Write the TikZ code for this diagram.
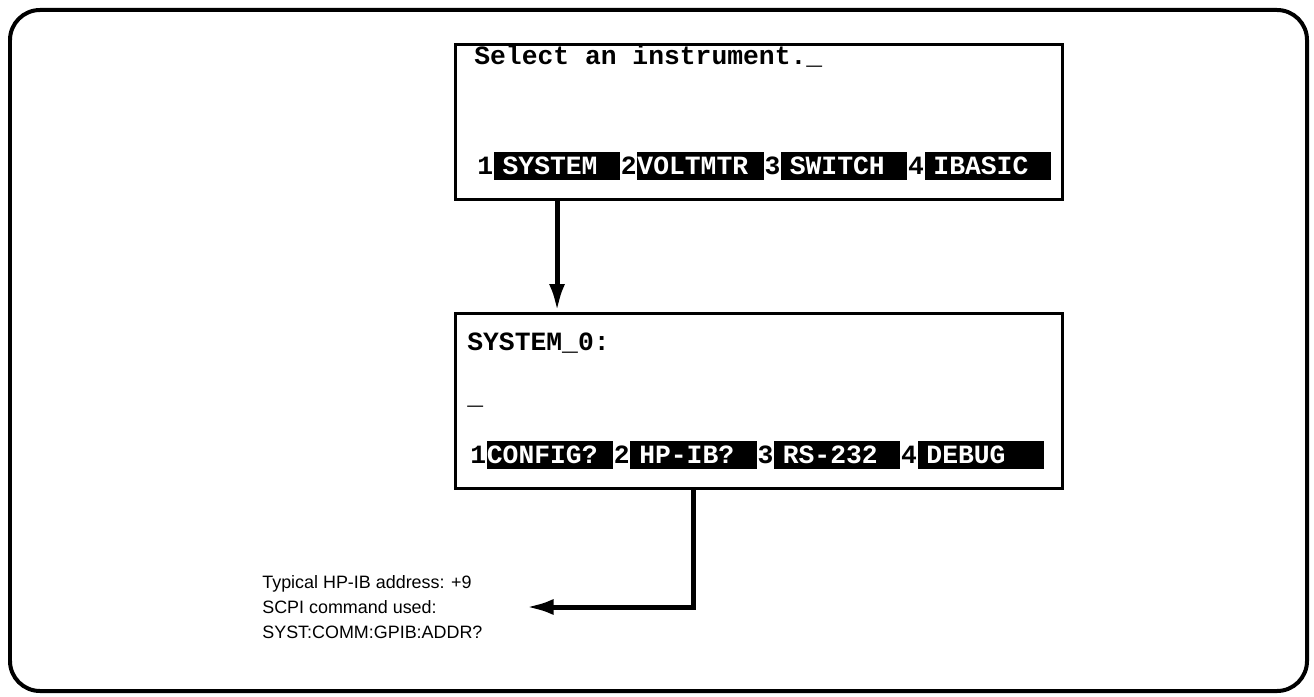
\documentclass[tikz,border=0pt]{standalone}
\usepackage{fontspec}
\setmainfont{Liberation Sans}
\newfontfamily\screenfont{Liberation Mono}
\usetikzlibrary{arrows.meta, positioning, calc}

\begin{document}
\begin{tikzpicture}[x=0.02cm, y=-0.02cm,
    screen/.style={draw, line width=0.06cm, minimum width=12.16cm, inner sep=0},
    msg/.style={anchor=base west, inner sep=0, font=\screenfont\bfseries\fontsize{15}{18}\selectfont},
    numkey/.style={inner sep=0, minimum width=0.316cm, minimum height=0.56cm, font=\screenfont\bfseries\fontsize{15}{18}\selectfont},
    softkey/.style={fill=black, text=white, inner sep=0, minimum height=0.56cm, text width=2.528cm, align=left, font=\screenfont\bfseries\fontsize{15}{18}\selectfont},
    flow/.style={line width=0.1cm, -{Latex[length=0.55cm,width=0.32cm]}}]
    \useasboundingbox (0,0) rectangle (1314,696);

    % Khung ngoài
    \draw[line width=0.08cm, rounded corners=0.6cm] (10,10) rectangle (1307,691);

    % Màn hình chọn thiết bị
    \node[screen, minimum height=3.12cm] (menu) at (759,122) {};
    \node[msg] (prompt) at (474,65) {Select an instrument.\_};
    \node[numkey, anchor=west] (n1) at (477,166) {1};
    \node[softkey, right=0pt of n1] (k1) {~SYSTEM};
    \node[numkey, right=0pt of k1] (n2) {2};
    \node[softkey, right=0pt of n2] (k2) {VOLTMTR};
    \node[numkey, right=0pt of k2] (n3) {3};
    \node[softkey, right=0pt of n3] (k3) {~SWITCH};
    \node[numkey, right=0pt of k3] (n4) {4};
    \node[softkey, right=0pt of n4] (k4) {~IBASIC};

    % Màn hình SYSTEM
    \node[screen, minimum height=3.52cm] (sysmenu) at (759,401) {};
    \node[msg] (sysprompt) at (467,350) {SYSTEM\_0:};
    \node[msg] (cursor) at (467,404) {\_};
    \node[numkey, anchor=west] (m1) at (470,454.5) {1};
    \node[softkey, right=0pt of m1] (h1) {CONFIG?};
    \node[numkey, right=0pt of h1] (m2) {2};
    \node[softkey, right=0pt of m2] (h2) {~HP-IB?};
    \node[numkey, right=0pt of h2] (m3) {3};
    \node[softkey, right=0pt of m3] (h3) {~RS-232};
    \node[numkey, right=0pt of h3] (m4) {4};
    \node[softkey, right=0pt of m4] (h4) {~DEBUG};

    % Ghi chú
    \node[anchor=west, align=left, inner sep=0, font=\fontsize{10.2}{14.3}\selectfont] (note) at (262,607)
        {Typical HP-IB address: +9\\SCPI command used:\\SYST:COMM:GPIB:ADDR?};
    \coordinate (tip) at (526,607);

    % Mũi tên
    \draw[flow] (k1 |- menu.south) -- (k1 |- sysmenu.north);
    \draw[flow] (h2 |- sysmenu.south) |- (tip);
\end{tikzpicture}
\end{document}
